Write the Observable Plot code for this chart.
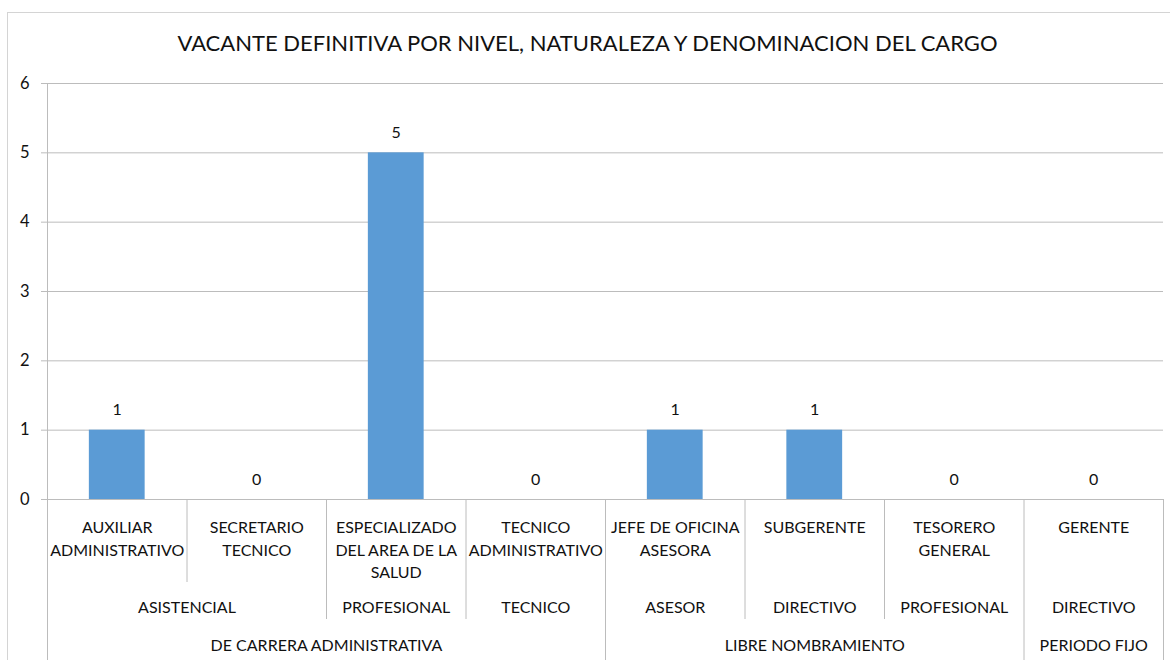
<!DOCTYPE html>
<html>
<head>
<meta charset="utf-8">
<script src="https://cdn.jsdelivr.net/npm/d3@7"></script>
<script src="https://cdn.jsdelivr.net/npm/@observablehq/plot@0.6"></script>
<style>
  html, body { margin: 0; padding: 0; background: #fff; }
  #wrap { position: relative; width: 1170px; height: 660px; overflow: hidden; font-family: Lato, "Open Sans", sans-serif; }
  #frame { position: absolute; left: 7px; top: 12px; width: 1175px; height: 660px; border: 1px solid #d4d4d4; box-sizing: border-box; }
  #title { position: absolute; left: 7px; width: 1161px; top: 29px; text-align: center; font-size: 22px; color: #111; white-space: nowrap; }
  #chart { position: absolute; left: 0; top: 0; }
</style>
</head>
<body>
<div id="wrap">
  <div id="frame"></div>
  <div id="title"></div>
  <div id="chart"></div>
</div>
<script>
const titulo = "VACANTE DEFINITIVA POR NIVEL, NATURALEZA Y DENOMINACION DEL CARGO";
const cargos = [
  "AUXILIAR\nADMINISTRATIVO",
  "SECRETARIO\nTECNICO",
  "ESPECIALIZADO\nDEL AREA DE LA\nSALUD",
  "TECNICO\nADMINISTRATIVO",
  "JEFE DE OFICINA\nASESORA",
  "SUBGERENTE",
  "TESORERO\nGENERAL",
  "GERENTE"
];
const niveles = ["ASISTENCIAL", "ASISTENCIAL", "PROFESIONAL", "TECNICO", "ASESOR", "DIRECTIVO", "PROFESIONAL", "DIRECTIVO"];
const naturalezas = [
  "DE CARRERA ADMINISTRATIVA", "DE CARRERA ADMINISTRATIVA", "DE CARRERA ADMINISTRATIVA", "DE CARRERA ADMINISTRATIVA",
  "LIBRE NOMBRAMIENTO", "LIBRE NOMBRAMIENTO", "LIBRE NOMBRAMIENTO",
  "PERIODO FIJO"
];
const vacantes = [1, 0, 5, 0, 1, 1, 0, 0];
const yTicks = [0, 1, 2, 3, 4, 5, 6];

document.getElementById("title").textContent = titulo;

const W = 1170, H = 660;
const mTop = 83, mBottom = 161, mLeft = 47, mRight = 7;
const plotH = H - mTop - mBottom;
const FS = 16;

const data = cargos.map((c, i) => ({i, cargo: c, v: vacantes[i], nivel: niveles[i], nat: naturalezas[i]}));

// consecutive runs -> groups
function runs(arr, parent) {
  const out = [];
  arr.forEach((k, i) => {
    const last = out[out.length - 1];
    if (last && last.label === k && (!parent || parent[i] === parent[last.start])) last.end = i + 1;
    else out.push({label: k, start: i, end: i + 1});
  });
  return out;
}
const nivelGroups = runs(niveles, naturalezas);
const natGroups = runs(naturalezas);

// boundaries between categories
const bounds = d3.range(0, cargos.length + 1).map(b => {
  let level;
  if (b === 0 || b === cargos.length || naturalezas[b - 1] !== naturalezas[b]) level = 3;
  else if (niveles[b - 1] !== niveles[b]) level = 2;
  else level = 1;
  return {b, level};
});

const grid = "#bcbcbc";
const txt = "#111";

const chart = Plot.plot({
  width: W, height: H,
  marginTop: mTop, marginBottom: mBottom, marginLeft: mLeft, marginRight: mRight,
  style: {fontFamily: "Lato, 'Open Sans', sans-serif", fontSize: FS + "px", color: txt, background: "transparent"},
  x: {type: "linear", domain: [0, cargos.length], axis: null},
  y: {domain: [0, 6], axis: null},
  marks: [
    // gridlines, extended left to form the tick marks
    Plot.ruleY(yTicks, {stroke: grid, strokeWidth: 1, insetLeft: -6}),
    Plot.axisY(yTicks, {tickSize: 0, tickPadding: 18, tickFormat: d3.format("d"), fill: txt, fontSize: 16.5, label: null}),
    Plot.rectY(data, {x1: d => d.i + 0.3, x2: d => d.i + 0.7, y: "v", fill: "#5B9BD5"}),
    Plot.text(data, {x: d => d.i + 0.5, y: "v", text: d => String(d.v), dy: -20, fill: txt, fontSize: FS}),
    // y axis line (extends through the category area)
    Plot.ruleX(bounds.filter(d => d.b === 0), {x: "b", stroke: grid, insetBottom: -mBottom}),
    // category separators
    Plot.ruleX(bounds.filter(d => d.b > 0 && d.level === 1), {x: "b", stroke: grid, insetTop: plotH, insetBottom: -83}),
    Plot.ruleX(bounds.filter(d => d.b > 0 && d.level === 2), {x: "b", stroke: grid, insetTop: plotH, insetBottom: -120}),
    Plot.ruleX(bounds.filter(d => d.b > 0 && d.level === 3), {x: "b", stroke: grid, insetTop: plotH, insetBottom: -mBottom}),
    // labels
    Plot.text(data, {x: d => d.i + 0.5, text: "cargo", frameAnchor: "bottom", lineAnchor: "top", dy: 18, lineHeight: 1.4, fill: txt, fontSize: FS}),
    Plot.text(nivelGroups, {x: d => (d.start + d.end) / 2, text: "label", frameAnchor: "bottom", lineAnchor: "middle", dy: 108, fill: txt, fontSize: FS}),
    Plot.text(natGroups, {x: d => (d.start + d.end) / 2, text: "label", frameAnchor: "bottom", lineAnchor: "middle", dy: 146, fill: txt, fontSize: FS})
  ]
});
document.getElementById("chart").appendChild(chart);
</script>
</body>
</html>
